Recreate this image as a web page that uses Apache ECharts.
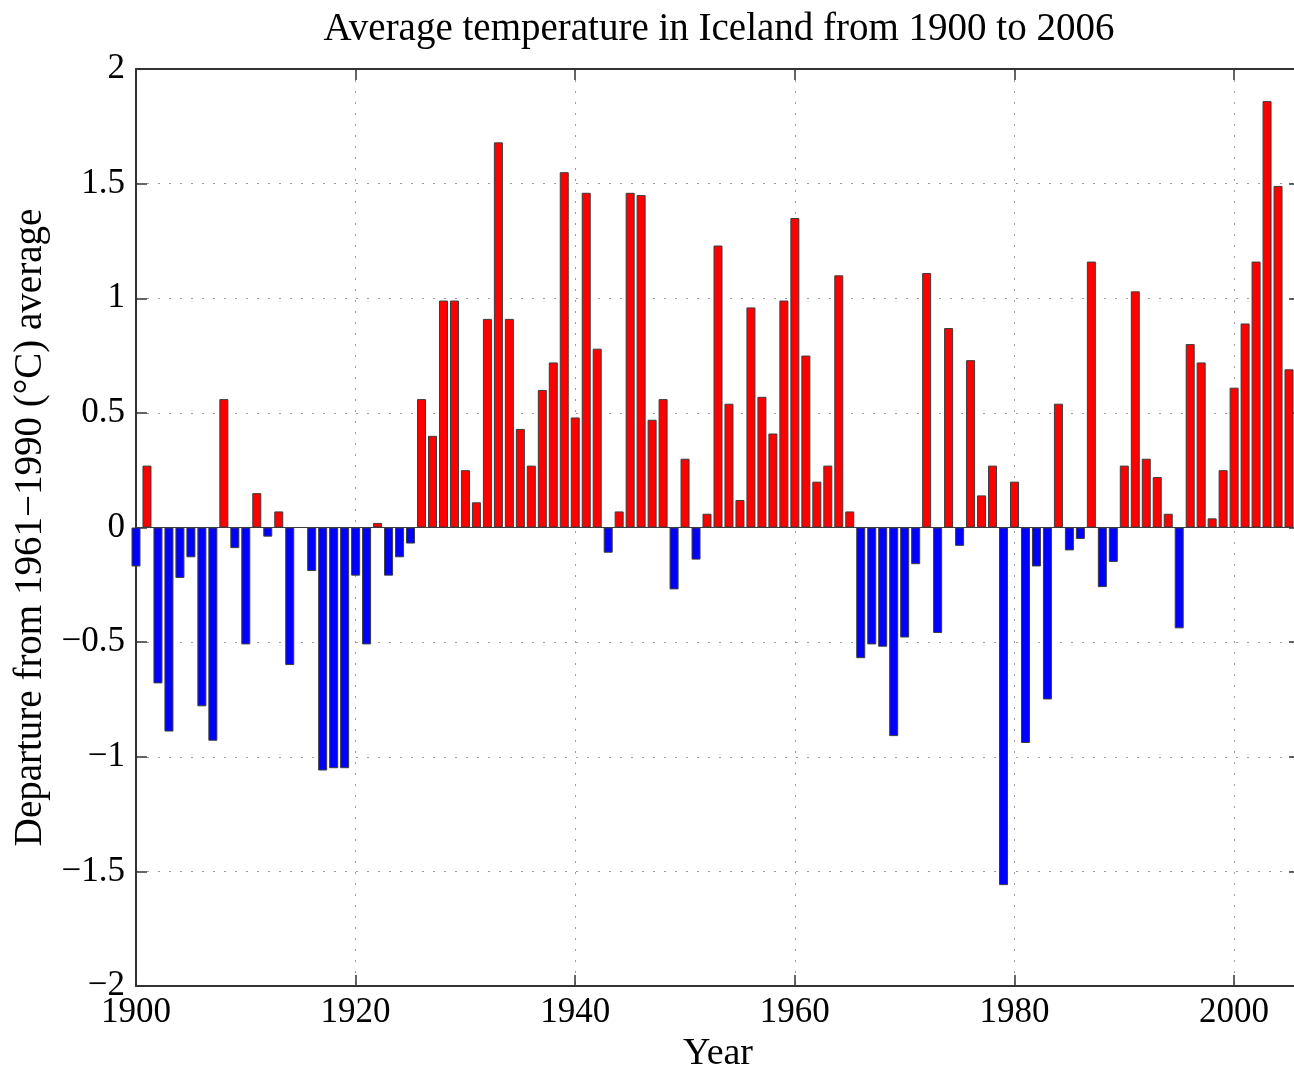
<!DOCTYPE html>
<html>
<head>
<meta charset="utf-8">
<script src="https://cdn.jsdelivr.net/npm/echarts@6/dist/echarts.min.js"></script>
<style>
  html, body { margin: 0; padding: 0; background: #fff; }
  #chart { width: 1294px; height: 1070px; }
</style>
</head>
<body>
<div id="chart"></div>
<script>
// Years shown on the horizontal axis, one bar each
const years = [
  1900, 1901, 1902, 1903, 1904, 1905, 1906, 1907, 1908, 1909,
  1910, 1911, 1912, 1913, 1914, 1915, 1916, 1917, 1918, 1919,
  1920, 1921, 1922, 1923, 1924, 1925, 1926, 1927, 1928, 1929,
  1930, 1931, 1932, 1933, 1934, 1935, 1936, 1937, 1938, 1939,
  1940, 1941, 1942, 1943, 1944, 1945, 1946, 1947, 1948, 1949,
  1950, 1951, 1952, 1953, 1954, 1955, 1956, 1957, 1958, 1959,
  1960, 1961, 1962, 1963, 1964, 1965, 1966, 1967, 1968, 1969,
  1970, 1971, 1972, 1973, 1974, 1975, 1976, 1977, 1978, 1979,
  1980, 1981, 1982, 1983, 1984, 1985, 1986, 1987, 1988, 1989,
  1990, 1991, 1992, 1993, 1994, 1995, 1996, 1997, 1998, 1999,
  2000, 2001, 2002, 2003, 2004, 2005, 2006
];

// Annual departure from the 1961-1990 mean, degrees C
const anomaly = [
  -0.17,  0.27, -0.68, -0.89, -0.22, -0.13, -0.78, -0.93,  0.56, -0.09,
  -0.51,  0.15, -0.04,  0.07, -0.60,  0.00, -0.19, -1.06, -1.05, -1.05,
  -0.21, -0.51,  0.02, -0.21, -0.13, -0.07,  0.56,  0.40,  0.99,  0.99,
   0.25,  0.11,  0.91,  1.68,  0.91,  0.43,  0.27,  0.60,  0.72,  1.55,
   0.48,  1.46,  0.78, -0.11,  0.07,  1.46,  1.45,  0.47,  0.56, -0.27,
   0.30, -0.14,  0.06,  1.23,  0.54,  0.12,  0.96,  0.57,  0.41,  0.99,
   1.35,  0.75,  0.20,  0.27,  1.10,  0.07, -0.57, -0.51, -0.52, -0.91,
  -0.48, -0.16,  1.11, -0.46,  0.87, -0.08,  0.73,  0.14,  0.27, -1.56,
   0.20, -0.94, -0.17, -0.75,  0.54, -0.10, -0.05,  1.16, -0.26, -0.15,
   0.27,  1.03,  0.30,  0.22,  0.06, -0.44,  0.80,  0.72,  0.04,  0.25,
   0.61,  0.89,  1.16,  1.86,  1.49,  0.69,  1.31
];

// Axis ranges and tick spacing
const yearRange = [1900, 2006];
const yearStep = 20;
const tempRange = [-2, 2];
const tempStep = 0.5;

const serif = '"Liberation Serif", "Times New Roman", Times, serif';
const frameColor = '#333333';
const warmColor = '#ff0000';
const coldColor = '#0000ff';
const dottedGrid = { type: [2, 9], color: '#9c9c9c', width: 1 };

const minusSign = v => String(v).replace('-', '\u2212');

const frameLine = { show: true, onZero: false, lineStyle: { color: frameColor, width: 2 } };
const innerTick = { show: true, inside: true, length: 11, lineStyle: { color: frameColor, width: 1.5 } };

const chart = echarts.init(document.getElementById('chart'), null, { renderer: 'canvas' });

chart.setOption({
  animation: false,
  backgroundColor: '#ffffff',
  title: {
    text: 'Average temperature in Iceland from 1900 to 2006',
    left: 719,
    top: 10,
    textAlign: 'center',
    padding: 0,
    textStyle: { fontFamily: serif, fontSize: 39, fontWeight: 'normal', color: '#000' }
  },
  grid: {
    left: 136,
    top: 69,
    width: 1164,
    height: 917,
    containLabel: false,
    outerBoundsMode: 'none'
  },
  xAxis: [
    {
      type: 'value',
      position: 'bottom',
      min: yearRange[0],
      max: yearRange[1],
      interval: yearStep,
      name: 'Year',
      nameLocation: 'middle',
      nameGap: 47,
      nameTextStyle: { fontFamily: serif, fontSize: 38, color: '#000' },
      axisLine: frameLine,
      axisTick: innerTick,
      axisLabel: {
        fontFamily: serif, fontSize: 35, color: '#000', margin: 9,
        showMaxLabel: false, hideOverlap: false,
        formatter: v => String(v)
      },
      splitLine: { show: true, lineStyle: dottedGrid }
    },
    {
      type: 'value',
      position: 'top',
      min: yearRange[0],
      max: yearRange[1],
      interval: yearStep,
      axisLine: frameLine,
      axisTick: innerTick,
      axisLabel: { show: false },
      splitLine: { show: false }
    }
  ],
  yAxis: [
    {
      type: 'value',
      position: 'left',
      min: tempRange[0],
      max: tempRange[1],
      interval: tempStep,
      name: 'Departure from 1961\u22121990 (\u00B0C) average',
      nameLocation: 'middle',
      nameGap: 79,
      nameTextStyle: { fontFamily: serif, fontSize: 39, color: '#000' },
      axisLine: frameLine,
      axisTick: innerTick,
      axisLabel: {
        fontFamily: serif, fontSize: 35, color: '#000', margin: 11,
        hideOverlap: false,
        formatter: minusSign
      },
      splitLine: { show: true, lineStyle: dottedGrid }
    },
    {
      type: 'value',
      position: 'right',
      min: tempRange[0],
      max: tempRange[1],
      interval: tempStep,
      axisLine: frameLine,
      axisTick: innerTick,
      axisLabel: { show: false },
      splitLine: { show: false }
    }
  ],
  series: [
    {
      name: 'Departure',
      type: 'bar',
      xAxisIndex: 0,
      yAxisIndex: 0,
      data: years.map((y, i) => [y, anomaly[i]]),
      barWidth: 9,
      clip: true,
      itemStyle: {
        color: p => (p.value[1] >= 0 ? warmColor : coldColor),
        borderColor: '#3c3c3c',
        borderWidth: 1
      },
      markLine: {
        silent: true,
        symbol: 'none',
        label: { show: false },
        lineStyle: { color: '#3c3c3c', width: 1, type: 'solid' },
        data: [{ yAxis: 0 }]
      }
    }
  ]
});
</script>
</body>
</html>
